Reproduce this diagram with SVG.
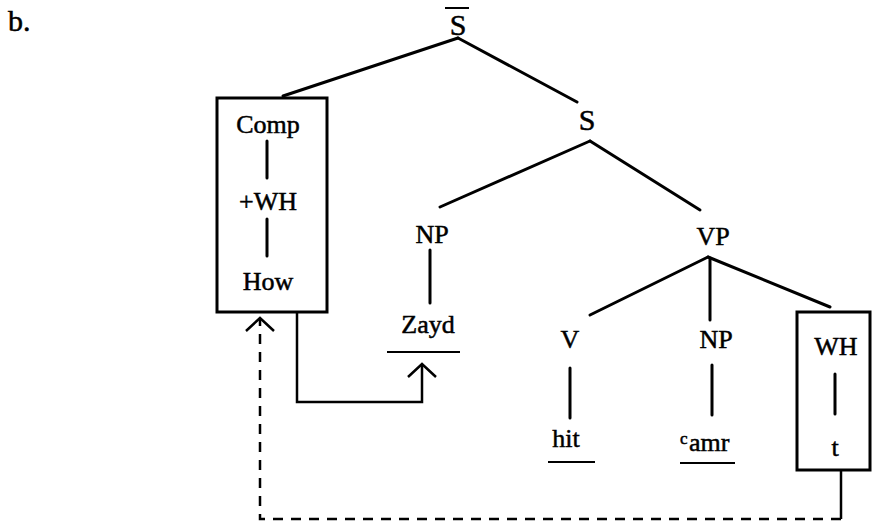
<svg xmlns="http://www.w3.org/2000/svg" width="882" height="529" viewBox="0 0 882 529">
  <style>
    text { font-family: 'Liberation Serif', 'Times New Roman', Times, 'DejaVu Serif', serif; fill: #000; stroke: #000; stroke-width: 0.5; }
    .lbl { font-size: 26px; text-anchor: middle; }
    .big { font-size: 30px; text-anchor: middle; }
    .edge { stroke: #000; stroke-width: 3; fill: none; stroke-linecap: round; }
    .box { stroke: #000; stroke-width: 3; fill: none; }
    .link { stroke: #000; stroke-width: 2.5; fill: none; }
    .dash { stroke: #000; stroke-width: 2.5; fill: none; stroke-dasharray: 10 8; }
    .uline { stroke: #000; stroke-width: 2.2; }
    .chev { stroke: #000; stroke-width: 2.5; fill: none; stroke-dasharray: none; stroke-linejoin: miter; }
  </style>
  <defs>
    <marker id="open-arrow" markerUnits="userSpaceOnUse" viewBox="0 0 16 32" refX="14" refY="16" markerWidth="16" markerHeight="32" orient="auto">
      <path class="chev" d="M1,2 L14,16 L1,30"/>
    </marker>
  </defs>

  <rect width="882" height="529" fill="#fff"/>

  <text x="8" y="31" style="font-size:30px">b.</text>

  <!-- tree edges -->
  <g id="edges">
    <line class="edge" x1="458" y1="38" x2="283" y2="96"/>
    <line class="edge" x1="458" y1="38" x2="577" y2="102"/>
    <line class="edge" x1="590" y1="141" x2="440" y2="207"/>
    <line class="edge" x1="590" y1="141" x2="700" y2="210"/>
    <line class="edge" x1="708" y1="257" x2="590" y2="315"/>
    <line class="edge" x1="710" y1="258" x2="710" y2="320"/>
    <line class="edge" x1="708" y1="257" x2="830" y2="307"/>
    <line class="edge" x1="430" y1="250" x2="430" y2="303"/>
    <line class="edge" x1="570" y1="368" x2="570" y2="418"/>
    <line class="edge" x1="712" y1="365" x2="712" y2="415"/>
  </g>

  <!-- movement connectors -->
  <g id="connectors">
    <path class="link" d="M297,312 V402 H422 V364" marker-end="url(#open-arrow)"/>
    <line class="link" x1="841" y1="470" x2="841" y2="519"/>
    <path class="dash" d="M841,519 H260 V318" marker-end="url(#open-arrow)"/>
  </g>

  <g id="sbar">
    <line x1="445" y1="8" x2="469" y2="8" stroke="#000" stroke-width="2"/>
    <text class="big" x="458" y="35">S</text>
  </g>

  <g id="s">
    <text class="big" x="587" y="130">S</text>
  </g>

  <g id="comp">
    <rect class="box" x="217" y="98" width="110" height="214"/>
    <text class="lbl" x="268" y="133">Comp</text>
    <line class="edge" x1="267" y1="141" x2="267" y2="178"/>
    <text class="lbl" x="268" y="210">+WH</text>
    <line class="edge" x1="267" y1="219" x2="267" y2="256"/>
    <text class="lbl" x="268" y="290">How</text>
  </g>

  <g id="np-subject">
    <text class="lbl" x="432" y="243">NP</text>
    <text class="lbl" x="428" y="333">Zayd</text>
    <line class="uline" x1="387" y1="352" x2="460" y2="352"/>
  </g>

  <g id="vp">
    <text class="lbl" x="713" y="245">VP</text>
  </g>

  <g id="v">
    <text class="lbl" x="570" y="348">V</text>
    <text class="lbl" x="566" y="447">hit</text>
    <line class="uline" x1="548" y1="462" x2="595" y2="462"/>
  </g>

  <g id="np-object">
    <text class="lbl" x="716" y="348">NP</text>
    <text x="680" y="444" style="font-size:17px">c</text>
    <text x="689" y="451" style="font-size:26px">amr</text>
    <line class="uline" x1="680" y1="463" x2="735" y2="463"/>
  </g>

  <g id="wh">
    <rect class="box" x="797" y="312" width="73" height="158"/>
    <text class="lbl" x="836" y="355">WH</text>
    <line class="edge" x1="835" y1="374" x2="835" y2="414"/>
    <text class="lbl" x="835" y="456">t</text>
  </g>
</svg>
